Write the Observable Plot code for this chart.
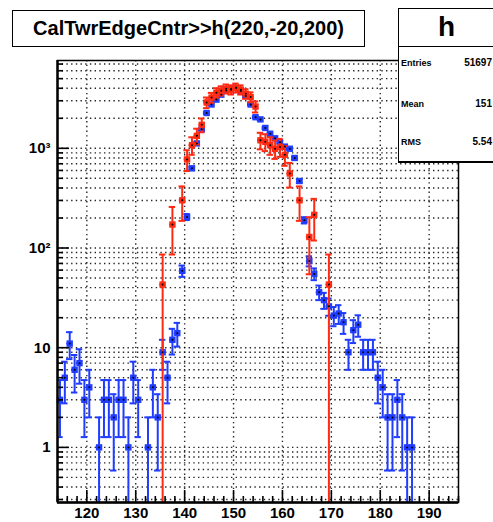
<!DOCTYPE html>
<html>
<head>
<meta charset="utf-8">
<script src="https://cdn.jsdelivr.net/npm/d3@7"></script>
<script src="https://cdn.jsdelivr.net/npm/@observablehq/plot@0.6"></script>
<style>
  body { margin: 0; background: #fff; }
  #wrap { position: relative; width: 493px; height: 522px; overflow: hidden; background: #fff;
          font-family: "Liberation Sans", Arial, Helvetica, sans-serif; font-weight: bold; color: #000; }
  #wrap svg { position: absolute; left: 0; top: 0; }
  .box { position: absolute; background: #fff; border: 1.5px solid #000; box-sizing: border-box; }
  #title { left: 12px; top: 10px; width: 353px; height: 37px; font-size: 20px; line-height: 34px; text-align: center; }
  #stats { left: 398px; top: 8px; width: 97px; height: 155px; border-bottom-width: 2.5px; }
  #stats .head { position: absolute; left: 0; right: 0; top: 0; height: 37px; border-bottom: 1.5px solid #000;
                 font-size: 28px; line-height: 35px; text-align: center; }
  .stat { position: absolute; font-size: 9px; line-height: 10px; white-space: nowrap; }
</style>
</head>
<body>
<div id="wrap"></div>
<script>
// Histogram "h": blue series, raw counts per unit-width bin (bin low edge -> count)
const blueBins = [114,115,116,117,118,119,120,122,123,124,125,126,127,128,129,130,132,133,134,135,136,137,138,
  139,140,141,142,143,144,145,146,147,148,149,150,151,152,153,154,155,156,157,158,159,160,161,162,163,164,165,
  166,167,168,169,170,171,172,173,174,175,176,177,178,179,180,181,182,183,184,185,186];
const blueCounts = [3,5,11,6,7,3,4,1,3,3,2,3,3,1,5,3,1,4,2,9,5,12,14,
  59,205,630,1120,1550,2260,2750,3080,3450,3800,3950,4050,3750,3350,2750,2050,1950,1600,1400,1260,1150,1040,990,800,470,190,74,
  55,36,30,26,21,22,18,9,15,17,9,9,9,5,4,2,2,3,2,1,1];

// Red series: weighted histogram, every entry carries the same weight
const redWeight = 43;
const redBins = [135,137,139,140,141,142,143,144,145,146,147,148,149,150,151,152,153,154,155,156,157,158,159,160,161,163,165,166,169];
const redValues = [43,172,301,774,1075,1333,1720,2881,3225,3612,3784,3956,3870,4042,3870,3526,3268,2623,1204,1161,1075,989,1032,860,559,301,129,215,43];

// Axes
const xDomain = [114, 196];
const yDomain = [0.28, 7600];
const xTicks = [120, 130, 140, 150, 160, 170, 180, 190];
const yTickValues = [1, 10, 100, 1000];
const yTickLabels = ["1", "10", "10\u00B2", "10\u00B3"];

// Title and statistics box
const titleText = "CalTwrEdgeCntr>>h(220,-20,200)";
const histName = "h";
const statLabels = ["Entries", "Mean", "RMS"];
const statValues = ["51697", "151", "5.54"];

// ---- layout ----
const W = 493, H = 522;
const mL = 57, mR = 35, mT = 60, mB = 20;
const pxPerX = (W - mL - mR) / (xDomain[1] - xDomain[0]);
const pxPerDecade = (H - mT - mB) / (Math.log10(yDomain[1]) - Math.log10(yDomain[0]));
const xLen = px => px / pxPerX;                            // pixel length -> x units
const yUp = (v, px) => v * Math.pow(10, px / pxPerDecade); // move up px on the log axis

const BLUE = "#1f3cff", RED = "#ff2a12";

function errorRows(bins, vals, errOf) {
  return bins.map((b, i) => {
    const v = vals[i], e = errOf(v);
    const lo = v - e;
    return { x: b + 0.5, x1: b, x2: b + 1, y: v, hi: v + e,
             lo: lo > yDomain[0] ? lo : yDomain[0], capLo: lo > yDomain[0] };
  });
}
const blueRows = errorRows(blueBins, blueCounts, v => Math.sqrt(v));
const redRows = errorRows(redBins, redValues, v => Math.sqrt(v * redWeight));

function histMarks(rows, color) {
  const cap = xLen(3.2);
  const sw = 2;
  return [
    Plot.ruleX(rows, { x: "x", y1: "lo", y2: "hi", stroke: color, strokeWidth: sw, clip: true }),
    Plot.ruleY(rows, { y: "y", x1: d => d.x1 - xLen(0.5), x2: d => d.x2 + xLen(0.5), stroke: color, strokeWidth: sw, clip: true }),
    Plot.ruleY(rows, { y: "hi", x1: d => d.x - cap, x2: d => d.x + cap, stroke: color, strokeWidth: sw, clip: true }),
    Plot.ruleY(rows.filter(d => d.capLo), { y: "lo", x1: d => d.x - cap, x2: d => d.x + cap, stroke: color, strokeWidth: sw, clip: true }),
    Plot.dot(rows, { x: "x", y: "y", symbol: "square", r: 3.6, fill: color, stroke: "none" })
  ];
}

// log-axis tick positions (majors at powers of ten, minors at 2..9)
const yAll = [];
for (let d = -1; d <= 3; d++) for (let m = 1; m <= 9; m++) {
  const v = m * Math.pow(10, d);
  if (v >= yDomain[0] && v <= yDomain[1]) yAll.push({ v, major: m === 1 });
}
const xAll = [];
for (let v = xDomain[0]; v <= xDomain[1]; v += 2) xAll.push({ v, major: v % 10 === 0 });

const dotted = { stroke: "#000", strokeWidth: 1.4, strokeDasharray: "1.4,3.3", strokeOpacity: 0.85 };

const chart = Plot.plot({
  width: W, height: H,
  marginLeft: mL, marginRight: mR, marginTop: mT, marginBottom: mB,
  style: { background: "#fff", fontFamily: "Liberation Sans, Arial, sans-serif" },
  x: { domain: xDomain, axis: null },
  y: { type: "log", domain: yDomain, axis: null },
  marks: [
    Plot.ruleY(yAll, { y: "v", ...dotted }),
    Plot.ruleX(xTicks, { x: d => d, ...dotted }),
    ...histMarks(blueRows, BLUE),
    ...histMarks(redRows, RED),
    Plot.dot([...blueRows, ...redRows], { x: "x", y: "y", r: 1, fill: "#000", stroke: "none" }),
    Plot.frame({ stroke: "#000", strokeWidth: 1.5 }),
    // inward ticks on the left and bottom axes
    Plot.ruleY(yAll, { y: "v", x1: xDomain[0], x2: d => xDomain[0] + xLen(d.major ? 12 : 6), stroke: "#000", strokeWidth: 1.6 }),
    Plot.ruleX(xAll, { x: "v", y1: yDomain[0], y2: d => yUp(yDomain[0], d.major ? 12 : 6), stroke: "#000", strokeWidth: 1.6 }),
    Plot.ruleX([xDomain[0]], { stroke: "#000", strokeWidth: 2.4 }),
    Plot.ruleY([yDomain[0]], { stroke: "#000", strokeWidth: 2.4 }),
    // tick labels
    Plot.text(xTicks, { x: d => d, frameAnchor: "bottom", dy: 5, lineAnchor: "top", text: d => String(d),
                        fontSize: 15, fontWeight: "bold", fill: "#000" }),
    Plot.text(yTickValues, { y: d => d, frameAnchor: "left", dx: -7, textAnchor: "end",
                             text: (d, i) => yTickLabels[i], fontSize: 15, fontWeight: "bold", fill: "#000" })
  ]
});

const wrap = document.getElementById("wrap");
wrap.appendChild(chart);

const title = document.createElement("div");
title.className = "box"; title.id = "title"; title.textContent = titleText;
wrap.appendChild(title);

const stats = document.createElement("div");
stats.className = "box"; stats.id = "stats";
const head = document.createElement("div");
head.className = "head"; head.textContent = histName;
stats.appendChild(head);
wrap.appendChild(stats);

const rowY = [58, 99, 137];
statLabels.forEach((lab, i) => {
  const l = document.createElement("div");
  l.className = "stat"; l.textContent = lab;
  l.style.left = "401px"; l.style.top = rowY[i] + "px";
  wrap.appendChild(l);
  const v = document.createElement("div");
  v.className = "stat"; v.textContent = statValues[i];
  v.style.right = "1px"; v.style.top = rowY[i] + "px"; v.style.fontSize = "10px";
  wrap.appendChild(v);
});
</script>
</body>
</html>
